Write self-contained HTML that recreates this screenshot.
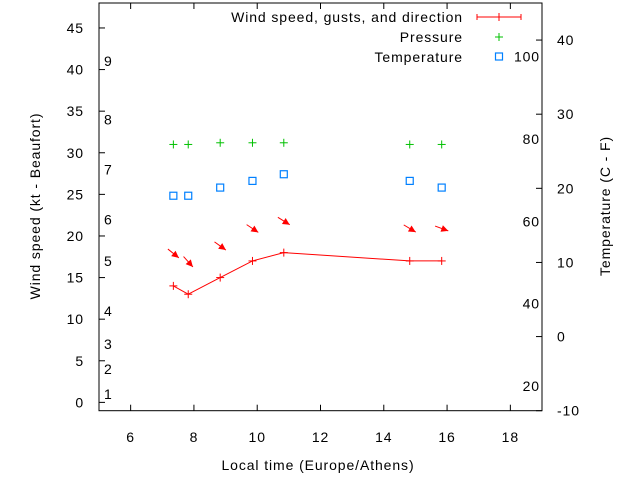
<!DOCTYPE html>
<html><head><meta charset="utf-8"><style>
html,body{margin:0;padding:0;background:#fff}
svg{display:block}
text{font-family:"Liberation Sans",sans-serif;font-size:14px;fill:#000;letter-spacing:0.9px}
</style></head><body>
<svg id="c" width="640" height="480" xmlns="http://www.w3.org/2000/svg"></svg>
<script>
const times=[7.35,7.82,8.83,9.85,10.84,14.82,15.83];
const windSpeed=[14,13,15,17,18,17,17];
const gust=[17.9,16.9,18.8,20.9,21.8,20.9,20.9];
const dirAngle=[38.7,48,35.7,33.6,32,31,20];
const pressure=[31.0,31.0,31.2,31.2,31.2,31.0,31.0];
const tempC=[19.0,19.0,20.1,21.0,21.9,21.0,20.1];
const xTicks=[6,8,10,12,14,16,18];
const yTicks=[0,5,10,15,20,25,30,35,40,45];
const cTicks=[-10,0,10,20,30,40];
const fTicks=[20,40,60,80,100];
const bftLabels=[1,2,3,4,5,6,7,8,9];
const bftKnots=[1,4,7,11,17,22,28,34,41];

const L=99,R=542,T=3,B=410.7;
const X=v=>L+(v-5)/14*(R-L);
const Y=v=>B-(v+1)/49*(B-T);
const YC=c=>B-(c+10)/55*(B-T);
const NS="http://www.w3.org/2000/svg";
const svg=document.getElementById('c');
function el(t,a,p){const e=document.createElementNS(NS,t);for(const k in a)e.setAttribute(k,a[k]);(p||svg).appendChild(e);return e;}
function txt(s,x,y,anchor,p){const e=el('text',{x:x,y:y,'text-anchor':anchor||'middle'},p);e.textContent=s;return e;}

const frame=el('rect',{x:L,y:T,width:R-L,height:B-T,fill:'none',stroke:'#000','stroke-width':1});



const xg=el('g',{});


xTicks.forEach(v=>{const x=X(v);
 el('line',{x1:x,y1:B,x2:x,y2:B-6,stroke:'#000'},xg);
 el('line',{x1:x,y1:T,x2:x,y2:T+6,stroke:'#000'},xg);
 const t=txt(String(v),x,442,'middle',xg);
 
 
});
const yg=el('g',{});


yTicks.forEach(v=>{const y=Y(v);
 el('line',{x1:L,y1:y,x2:L+6,y2:y,stroke:'#000'},yg);
 const t=txt(String(v),84,y+5,'end',yg);
 
 
});
bftLabels.forEach((b,i)=>{
 const t=txt(String(b),104,Y(bftKnots[i])+5,'start');
 
 
});
const rg=el('g',{});


cTicks.forEach(v=>{const y=YC(v);
 el('line',{x1:R,y1:y,x2:R-6,y2:y,stroke:'#000'},rg);
 const t=txt(String(v),557,y+5,'start',rg);
 
 
});
fTicks.forEach(f=>{const c=(f-32)/1.8;
 const t=txt(String(f),540,YC(c)+5,'end');
 
 
});

let t1=txt('Local time (Europe/Athens)',318,470);


let t2=txt('Wind speed (kt - Beaufort)',0,0);
t2.setAttribute('transform','translate(40,206) rotate(-90)');


let t3=txt('Temperature (C - F)',0,0);
t3.setAttribute('transform','translate(610,206) rotate(-90)');



const pts=times.map((t,i)=>X(t)+','+Y(windSpeed[i])).join(' ');
const wl=el('polyline',{points:pts,fill:'none',stroke:'#f00','stroke-width':1});


function plus(x,y,c,p){el('line',{x1:x-4,y1:y,x2:x+4,y2:y,stroke:c},p);el('line',{x1:x,y1:y-4,x2:x,y2:y+4,stroke:c},p);}
times.forEach((t,i)=>{const g=el('g',{});
 
 
 plus(X(t),Y(windSpeed[i]),'#f00',g);});
times.forEach((t,i)=>{const cx=X(t),cy=Y(gust[i]);const a=dirAngle[i]*Math.PI/180,len=14;
 const dx=Math.cos(a)*len/2,dy=Math.sin(a)*len/2;
 const g=el('g',{});
 
 
 const hx=cx+dx,hy=cy+dy;
 el('line',{x1:cx-dx,y1:cy-dy,x2:hx,y2:hy,stroke:'#f00','stroke-width':1},g);
 const ux=Math.cos(a),uy=Math.sin(a),hl=7,hw=3.5;
 const bx=hx-ux*hl,by=hy-uy*hl;
 el('polygon',{points:`${hx},${hy} ${bx-uy*hw},${by+ux*hw} ${bx+uy*hw},${by-ux*hw}`,fill:'#f00'},g);
});
times.forEach((t,i)=>{const g=el('g',{});
 
 
 plus(X(t),Y(pressure[i]),'#00c000',g);});
times.forEach((t,i)=>{const r=el('rect',{x:X(t)-3.5,y:YC(tempC[i])-3.5,width:7,height:7,fill:'none',stroke:'#0080ff','stroke-width':1.2});
 
 });

const lg=el('g',{});


const l1=txt('Wind speed, gusts, and direction',463,22,'end',lg);


el('line',{x1:477,y1:17,x2:521,y2:17,stroke:'#f00'},lg);
el('line',{x1:477,y1:14,x2:477,y2:20,stroke:'#f00'},lg);
el('line',{x1:521,y1:14,x2:521,y2:20,stroke:'#f00'},lg);
el('line',{x1:499,y1:13,x2:499,y2:21,stroke:'#f00'},lg);
const l2=txt('Pressure',463,42,'end',lg);


plus(499,37,'#00c000',lg);
const l3=txt('Temperature',463,62,'end',lg);


el('rect',{x:495.5,y:53,width:7,height:7,fill:'none',stroke:'#0080ff','stroke-width':1.2},lg);
</script>
</body></html>
